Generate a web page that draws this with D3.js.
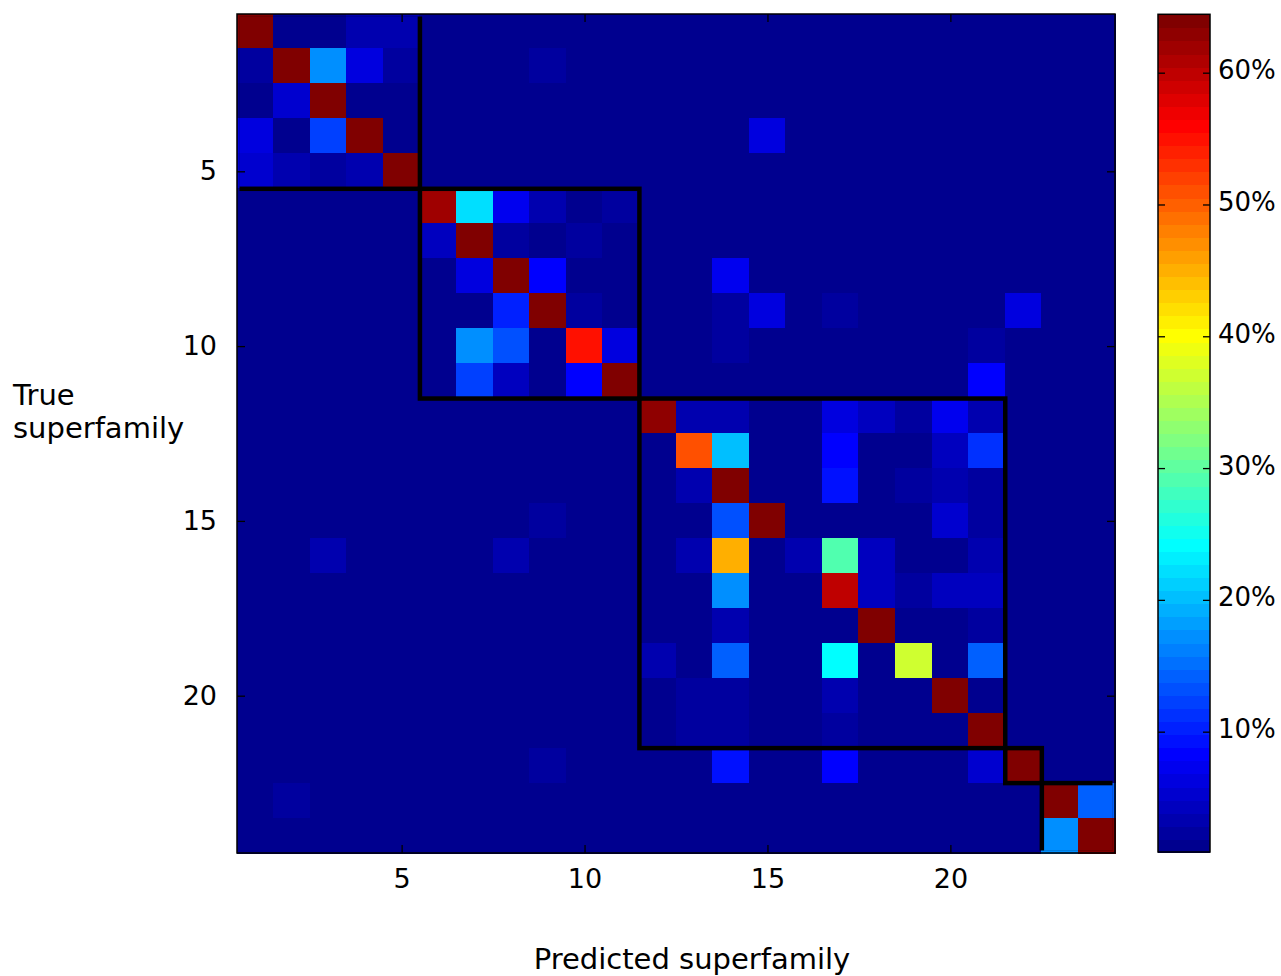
<!DOCTYPE html>
<html>
<head>
<meta charset="utf-8">
<script src="https://d3js.org/d3.v7.min.js"></script>
<style>
  body { margin: 0; background: #fff; }
  text { font-family: "DejaVu Sans", Verdana, sans-serif; fill: #000; }
</style>
</head>
<body>
<div id="chart"></div>
<script>
// superfamily ids on both axes
var families = d3.range(1, 25);

// row = true superfamily, column = predicted superfamily, values in %
// (the dark red diagonal cells are past the top of the colour scale)
var rates = [
  [70, 0, 0, 3.4, 3.4, 0, 0, 0, 0, 0, 0, 0, 0, 0, 0, 0, 0, 0, 0, 0, 0, 0, 0, 0],
  [2.4, 70, 17.3, 6.4, 2.4, 0, 0, 0, 2.4, 0, 0, 0, 0, 0, 0, 0, 0, 0, 0, 0, 0, 0, 0, 0],
  [0, 5.4, 70, 0, 0, 0, 0, 0, 0, 0, 0, 0, 0, 0, 0, 0, 0, 0, 0, 0, 0, 0, 0, 0],
  [6.4, 0, 12.3, 70, 0, 0, 0, 0, 0, 0, 0, 0, 0, 0, 6.4, 0, 0, 0, 0, 0, 0, 0, 0, 0],
  [5.4, 3.4, 2.4, 3.4, 70, 0, 0, 0, 0, 0, 0, 0, 0, 0, 0, 0, 0, 0, 0, 0, 0, 0, 0, 0],
  [0, 0, 0, 0, 0, 62.0, 22.3, 7.4, 3.4, 1.4, 2.4, 0, 0, 0, 0, 0, 0, 0, 0, 0, 0, 0, 0, 0],
  [0, 0, 0, 0, 0, 4.4, 70, 2.4, 0, 2.4, 0, 0, 0, 0, 0, 0, 0, 0, 0, 0, 0, 0, 0, 0],
  [0, 0, 0, 0, 0, 1.4, 6.4, 70, 8.4, 0, 0, 0, 0, 7.4, 0, 0, 0, 0, 0, 0, 0, 0, 0, 0],
  [0, 0, 0, 0, 0, 0, 0, 10.3, 70, 2.4, 0, 0, 0, 2.4, 6.4, 0, 2.4, 0, 0, 0, 0, 6.4, 0, 0],
  [0, 0, 0, 0, 0, 0, 17.3, 13.3, 0, 55.0, 6.4, 0, 0, 2.4, 0, 0, 0, 0, 0, 0, 2.4, 0, 0, 0],
  [0, 0, 0, 0, 0, 0, 12.3, 4.4, 0, 8.4, 70, 0, 0, 0, 0, 0, 0, 0, 0, 0, 8.4, 0, 0, 0],
  [0, 0, 0, 0, 0, 0, 0, 0, 0, 0, 0, 63.0, 3.4, 3.4, 0, 0, 6.4, 4.4, 2.4, 7.4, 3.4, 0, 0, 0],
  [0, 0, 0, 0, 0, 0, 0, 0, 0, 0, 0, 0, 51.1, 20.3, 0, 0, 8.4, 0, 0, 4.4, 11.3, 0, 0, 0],
  [0, 0, 0, 0, 0, 0, 0, 0, 0, 0, 0, 0, 3.4, 70, 0, 0, 9.3, 0, 2.4, 3.4, 2.4, 0, 0, 0],
  [0, 0, 0, 0, 0, 0, 0, 0, 2.4, 0, 0, 0, 0, 13.3, 70, 0, 1.4, 0, 0, 5.4, 2.4, 0, 0, 0],
  [0, 0, 3.4, 0, 0, 0, 0, 3.4, 0, 0, 0, 0, 3.4, 45.1, 0, 3.4, 29.2, 4.4, 0, 0, 3.4, 0, 0, 0],
  [0, 0, 0, 0, 0, 0, 0, 0, 0, 0, 0, 0, 1.4, 17.3, 0, 0, 60.0, 4.4, 2.4, 4.4, 4.4, 0, 0, 0],
  [0, 0, 0, 0, 0, 0, 0, 0, 0, 0, 0, 0, 1.4, 3.4, 0, 0, 1.4, 70, 0, 0, 2.4, 0, 0, 0],
  [0, 0, 0, 0, 0, 0, 0, 0, 0, 0, 0, 3.4, 0, 14.3, 0, 0, 24.2, 0, 37.1, 0, 14.3, 0, 0, 0],
  [0, 0, 0, 0, 0, 0, 0, 0, 0, 0, 0, 1.4, 2.4, 2.4, 0, 0, 3.4, 0, 0, 70, 0, 0, 0, 0],
  [0, 0, 0, 0, 0, 0, 0, 0, 0, 0, 0, 0, 2.4, 2.4, 0, 0, 2.4, 0, 0, 0, 70, 0, 0, 0],
  [0, 0, 0, 0, 0, 0, 0, 0, 2.4, 0, 0, 0, 0, 9.3, 0, 0, 8.4, 1.4, 0, 0, 5.4, 70, 0, 0],
  [0, 2.4, 0, 0, 0, 0, 0, 0, 0, 0, 0, 0, 0, 0, 0, 0, 0, 0, 0, 0, 0, 0, 70, 14.3],
  [0, 0, 0, 0, 0, 0, 0, 0, 0, 0, 0, 0, 0, 0, 0, 0, 0, 0, 0, 0, 0, 0, 17.3, 70]
];

// groups of superfamilies outlined in black (first, last)
var blockStart = [1, 6, 12, 22, 23];
var blockEnd = [5, 11, 21, 22, 24];

var axisTicks = [5, 10, 15, 20];
var colorTicks = [10, 20, 30, 40, 50, 60];
var colorMin = 0.87, colorMax = 64.43;

// matlab style jet with 64 steps
var jet64 = function(i) {
  var k = i + 1;
  var u = function(n) {
    if (n < 1 || n > 47) return 0;
    if (n <= 16) return n / 16;
    if (n <= 31) return 1;
    return (48 - n) / 16;
  };
  return d3.rgb(255 * u(k - 24), 255 * u(k - 8), 255 * u(k + 8)).toString();
};
var jetColors = d3.range(64).map(jet64);

var width = 1281, height = 976;
var plot = {left: 237, right: 1115, top: 14, bottom: 853};
var bar = {left: 1158, right: 1210, top: 14.3, bottom: 852};

var svg = d3.select("#chart").append("svg")
  .attr("width", width)
  .attr("height", height);

var x = d3.scaleBand().domain(families).range([plot.left, plot.right]);
var y = d3.scaleBand().domain(families).range([plot.top, plot.bottom]);
var xLin = d3.scaleLinear().domain([0.5, 24.5]).range([plot.left, plot.right]);
var yLin = d3.scaleLinear().domain([0.5, 24.5]).range([plot.top, plot.bottom]);

var color = d3.scaleQuantize().domain([colorMin, colorMax]).range(jetColors);

var cells = [];
rates.forEach(function(row, i) {
  row.forEach(function(v, j) {
    cells.push({row: families[i], col: families[j], value: v});
  });
});

svg.append("g")
  .attr("shape-rendering", "crispEdges")
  .selectAll("rect")
  .data(cells)
  .enter()
  .append("rect")
  .attr("x", function(d) { return Math.floor(x(d.col)); })
  .attr("y", function(d) { return Math.floor(y(d.row)); })
  .attr("width", x.bandwidth() + 1)
  .attr("height", y.bandwidth() + 1)
  .attr("fill", function(d) { return color(d.value); });

// block outlines; the clip is a little inside the frame so the outer
// edges vanish and the inner lines stop just short of it
var inset = 2.5;
svg.append("clipPath").attr("id", "plotclip")
  .append("rect")
  .attr("x", plot.left + inset).attr("y", plot.top + inset)
  .attr("width", plot.right - plot.left - 2 * inset)
  .attr("height", plot.bottom - plot.top - 2 * inset);

svg.append("g").attr("clip-path", "url(#plotclip)")
  .selectAll("rect")
  .data(blockStart)
  .enter()
  .append("rect")
  .attr("x", function(d) { return xLin(d - 0.5); })
  .attr("y", function(d) { return yLin(d - 0.5); })
  .attr("width", function(d, i) { return xLin(blockEnd[i] + 0.5) - xLin(d - 0.5); })
  .attr("height", function(d, i) { return yLin(blockEnd[i] + 0.5) - yLin(d - 0.5); })
  .attr("fill", "none")
  .attr("stroke", "#000")
  .attr("stroke-width", 4.5);

// axes with inside ticks on all four sides
var fontSize = 27;

svg.append("g")
  .attr("transform", "translate(0," + plot.bottom + ")")
  .call(d3.axisBottom(xLin).tickValues(axisTicks).tickSizeInner(-8).tickSizeOuter(0).tickPadding(16));
svg.append("g")
  .attr("transform", "translate(" + plot.left + ",0)")
  .call(d3.axisLeft(yLin).tickValues(axisTicks).tickSizeInner(-8).tickSizeOuter(0).tickPadding(20));
svg.append("g")
  .attr("transform", "translate(0," + plot.top + ")")
  .call(d3.axisTop(xLin).tickValues(axisTicks).tickSizeInner(-8).tickSizeOuter(0).tickFormat(""));
svg.append("g")
  .attr("transform", "translate(" + plot.right + ",0)")
  .call(d3.axisRight(yLin).tickValues(axisTicks).tickSizeInner(-8).tickSizeOuter(0).tickFormat(""));

svg.selectAll(".tick text")
  .style("font-family", "'DejaVu Sans', Verdana, sans-serif")
  .style("font-size", fontSize + "px")
  .attr("fill", "#000");

svg.append("rect")
  .attr("x", plot.left).attr("y", plot.top)
  .attr("width", plot.right - plot.left)
  .attr("height", plot.bottom - plot.top)
  .attr("fill", "none")
  .attr("stroke", "#000")
  .attr("stroke-width", 1.5);

// colour bar
var cScale = d3.scaleLinear().domain([colorMin, colorMax]).range([bar.bottom, bar.top]);
var step = (colorMax - colorMin) / 64;

svg.append("g")
  .attr("shape-rendering", "crispEdges")
  .selectAll("rect")
  .data(jetColors)
  .enter()
  .append("rect")
  .attr("x", bar.left)
  .attr("y", function(d, i) { return cScale(colorMin + (i + 1) * step); })
  .attr("width", bar.right - bar.left)
  .attr("height", function(d, i) { return cScale(colorMin + i * step) - cScale(colorMin + (i + 1) * step) + 1; })
  .attr("fill", function(d) { return d; });

svg.append("g")
  .attr("transform", "translate(" + bar.left + ",0)")
  .call(d3.axisRight(cScale).tickValues(colorTicks).tickSizeInner(7).tickSizeOuter(0).tickFormat(""));
svg.append("g")
  .attr("transform", "translate(" + bar.right + ",0)")
  .call(d3.axisLeft(cScale).tickValues(colorTicks).tickSizeInner(7).tickSizeOuter(0).tickFormat(""));

svg.selectAll(".domain").remove();
svg.selectAll(".tick line").attr("stroke", "#000").attr("stroke-width", 1.3);

svg.append("g").selectAll("text")
  .data(colorTicks)
  .enter()
  .append("text")
  .attr("x", bar.right + 8)
  .attr("y", function(d) { return cScale(d); })
  .attr("dy", "0.25em")
  .style("font-size", "26px")
  .text(function(d) { return d + "%"; });

svg.append("rect")
  .attr("x", bar.left).attr("y", bar.top)
  .attr("width", bar.right - bar.left)
  .attr("height", bar.bottom - bar.top)
  .attr("fill", "none")
  .attr("stroke", "#000")
  .attr("stroke-width", 1.5);

// axis titles
var yTitle = svg.append("text")
  .attr("x", 13)
  .attr("y", 405)
  .style("font-size", "29px");
yTitle.append("tspan").attr("x", 13).text("True");
yTitle.append("tspan").attr("x", 13).attr("dy", 33).text("superfamily");

// the reference cuts this title at the bottom edge too
svg.append("text")
  .attr("x", 692)
  .attr("y", 969)
  .attr("text-anchor", "middle")
  .style("font-size", "29px")
  .text("Predicted superfamily");
</script>
</body>
</html>
